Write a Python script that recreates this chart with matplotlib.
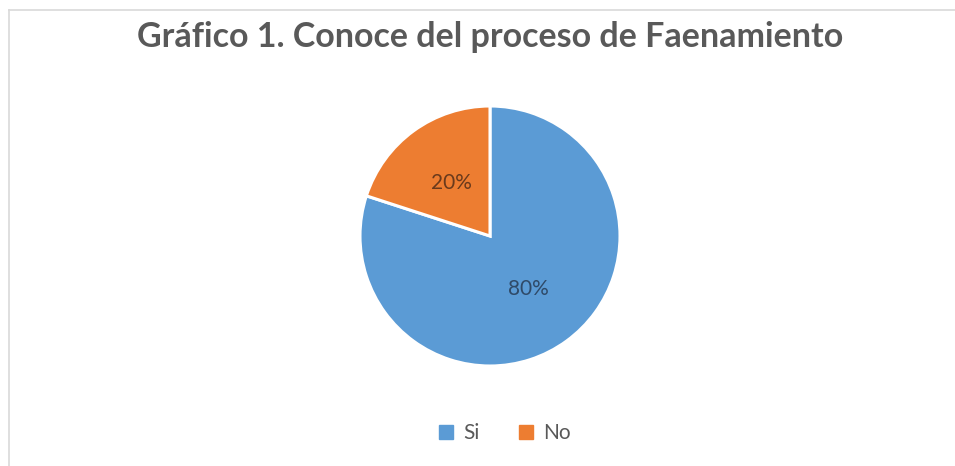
import matplotlib
matplotlib.use("Agg")
import matplotlib.pyplot as plt
from matplotlib.lines import Line2D
from matplotlib.patches import Patch

categories = ["Si", "No"]
values = [80, 20]
colors = ["#5B9BD5", "#ED7D31"]
label_colors = ["#2f4a68", "#6a3a1c"]
title = "Gráfico 1. Conoce del proceso de Faenamiento"

W, H = 955, 466
fig = plt.figure(figsize=(W / 100, H / 100), dpi=100)
fig.patch.set_facecolor("white")

# chart border (top and left visible)
fig.add_artist(Line2D([9 / W, 9 / W], [0, 1 - 10 / H], transform=fig.transFigure, color="#d9d9d9", lw=1.2))
fig.add_artist(Line2D([9 / W, 1], [1 - 10 / H, 1 - 10 / H], transform=fig.transFigure, color="#d9d9d9", lw=1.2))

cx, cy, r = 490, 236, 130
ax = fig.add_axes([(cx - r) / W, (H - cy - r) / H, 2 * r / W, 2 * r / H])
wedges, texts, autotexts = ax.pie(
    values, colors=colors, startangle=90, counterclock=False,
    autopct=lambda p: f"{p:.0f}%", pctdistance=0.5,
    wedgeprops=dict(edgecolor="white", linewidth=2.2),
    textprops=dict(fontsize=15, family="Lato"),
)
for t, c in zip(autotexts, label_colors):
    t.set_color(c)
ax.set_xlim(-1, 1)
ax.set_ylim(-1, 1)
ax.set_aspect("equal")
ax.axis("off")

fig.text(490 / W, 1 - 37 / H, title, ha="center", va="center",
         fontsize=24.5, fontweight="bold", color="#595959", family="Lato")

handles = [Patch(facecolor=c, edgecolor=c) for c in colors]
fig.legend(handles, categories, loc="center", bbox_to_anchor=(505 / W, 1 - 433 / H),
           ncol=2, frameon=False, handlelength=0.65, handleheight=0.65,
           handletextpad=0.5, columnspacing=1.9, labelcolor="#595959",
           prop=dict(family="Lato", size=15))

fig.savefig("out.png", dpi=100, facecolor="white")
